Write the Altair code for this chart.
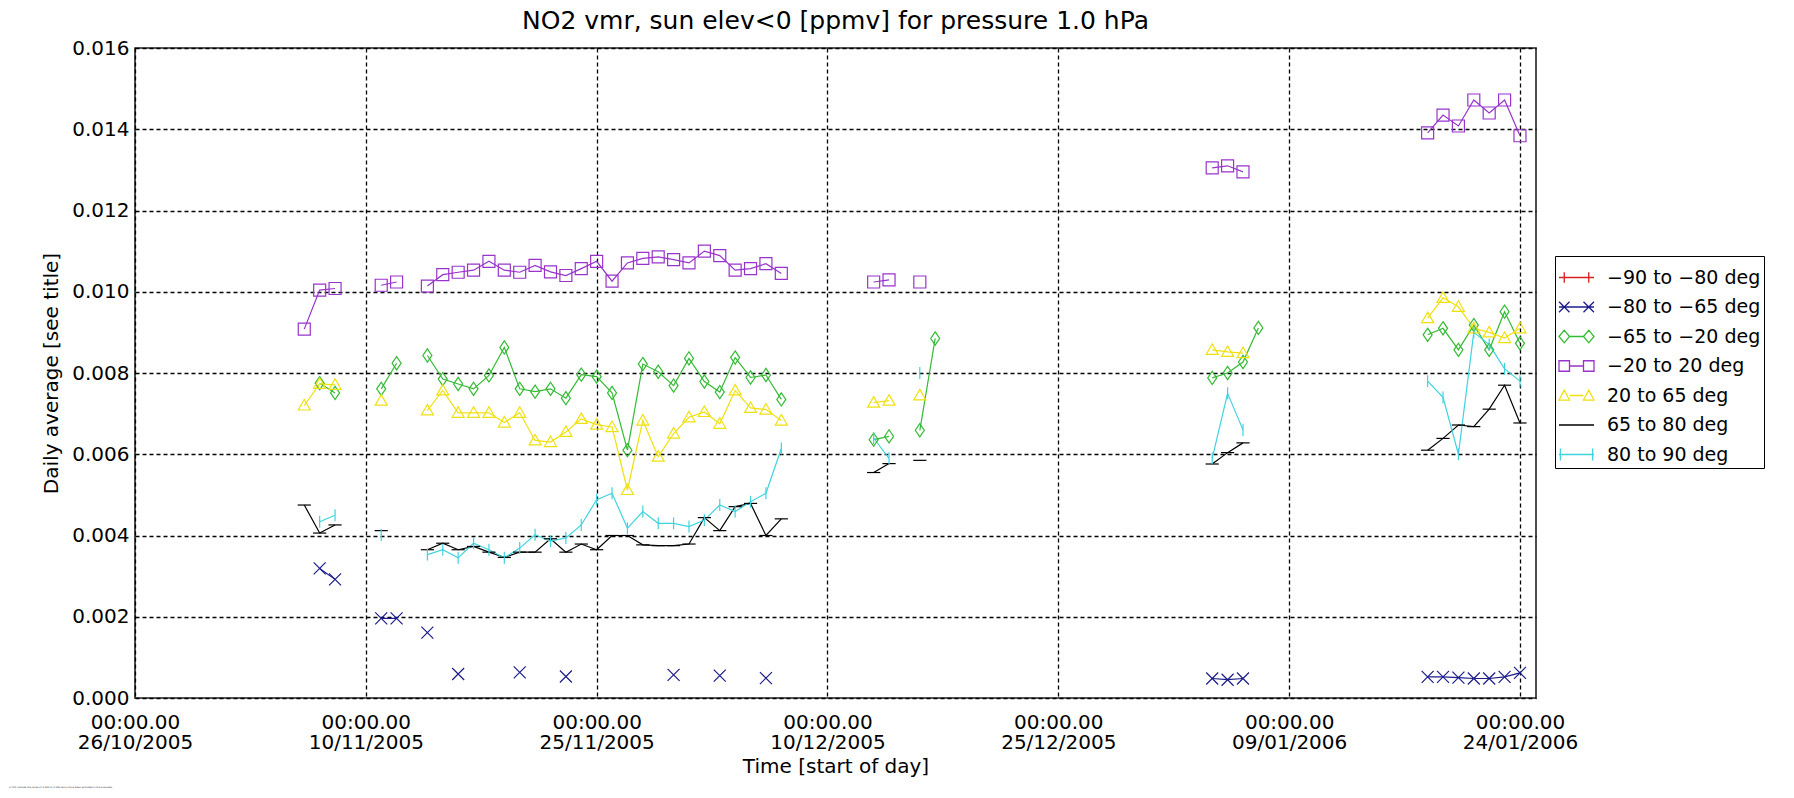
import altair as alt
import pandas as pd

# ---------------- data ----------------
SERIES = ["−90 to −80 deg", "−80 to −65 deg", "−65 to −20 deg", "−20 to 20 deg",
          "20 to 65 deg", "65 to 80 deg", "80 to 90 deg"]
MARKER_IDS = ["plus", "cross", "diamond", "square", "triangle", "hbar", "vbar"]
COLORS = ["#d42020", "#1c1c8c", "#33bb33", "#9933cc", "#f0e010", "#000000", "#3fd3e0"]

DATES_A = ["2005-11-06", "2005-11-07", "2005-11-08", "2005-11-11", "2005-11-12"]
DATES_B = ["2005-11-14", "2005-11-15", "2005-11-16", "2005-11-17", "2005-11-18",
           "2005-11-19", "2005-11-20", "2005-11-21", "2005-11-22", "2005-11-23",
           "2005-11-24", "2005-11-25", "2005-11-26", "2005-11-27", "2005-11-28",
           "2005-11-29", "2005-11-30", "2005-12-01", "2005-12-02", "2005-12-03",
           "2005-12-04", "2005-12-05", "2005-12-06", "2005-12-07"]
DATES_C = ["2005-12-13", "2005-12-14", "2005-12-16", "2005-12-17"]
DATES_D = ["2006-01-04", "2006-01-05", "2006-01-06", "2006-01-07"]
DATES_E = ["2006-01-18", "2006-01-19", "2006-01-20", "2006-01-21", "2006-01-22",
           "2006-01-23", "2006-01-24"]
ALL_DATES = DATES_A + DATES_B + DATES_C + DATES_D + DATES_E

N = None
RED = [N] * len(ALL_DATES)
BLUE = ([N, 0.00319, 0.00292, 0.00196, 0.00196]
        + [0.00161, N, 0.00059, N, N, N, 0.00063, N, N, 0.00053, N, N, N, N, N, N,
           0.00057, N, N, 0.00055, N, N, 0.00049, N]
        + [N, N, N, N]
        + [0.00048, 0.00045, 0.00048, N]
        + [0.00052, 0.00052, 0.00050, 0.00048, 0.00048, 0.00052, 0.00062])
GREEN = ([N, 0.00775, 0.00751, 0.00761, 0.00824]
         + [0.00843, 0.00785, 0.00773, 0.00761, 0.00794, 0.00863, 0.00761, 0.00754,
            0.00761, 0.00738, 0.00796, 0.00791, 0.00751, 0.00610, 0.00822, 0.00803,
            0.00769, 0.00836, 0.00779, 0.00753, 0.00838, 0.00789, 0.00795, 0.00735]
         + [0.00636, 0.00644, 0.00659, 0.00885]
         + [0.00788, 0.00800, 0.00827, 0.00911]
         + [0.00894, 0.00910, 0.00857, 0.00918, 0.00857, 0.00951, 0.00873])
PURPLE = ([0.00908, 0.01004, 0.01008, 0.01016, 0.01024]
          + [0.01014, 0.01042, 0.01048, 0.01053, 0.01075, 0.01053, 0.01048, 0.01065,
             0.01049, 0.01040, 0.01057, 0.01075, 0.01026, 0.01071, 0.01082, 0.01086,
             0.01079, 0.01071, 0.01100, 0.01089, 0.01053, 0.01057, 0.01069, 0.01045]
          + [0.01024, 0.01029, 0.01024, N]
          + [0.01305, 0.01310, 0.01295, N]
          + [0.01391, 0.01435, 0.01408, 0.01472, 0.01440, 0.01472, 0.01384])
YELLOW = ([0.00720, 0.00773, 0.00771, 0.00732, N]
          + [0.00708, 0.00757, 0.00702, 0.00702, 0.00702, 0.00678, 0.00702, 0.00634,
             0.00630, 0.00655, 0.00687, 0.00673, 0.00667, 0.00512, 0.00683, 0.00594,
             0.00651, 0.00691, 0.00704, 0.00675, 0.00757, 0.00714, 0.00710, 0.00683]
          + [0.00727, 0.00732, 0.00745, N]
          + [0.00857, 0.00852, 0.00849, N]
          + [0.00935, 0.00985, 0.00963, 0.00910, 0.00900, 0.00886, 0.00910])
BLACK = ([0.00475, 0.00406, 0.00426, 0.00412, N]
         + [0.00365, 0.00381, 0.00365, 0.00373, 0.00359, 0.00346, 0.00359, 0.00359,
            0.00392, 0.00359, 0.00379, 0.00365, 0.00400, 0.00400, 0.00377, 0.00375,
            0.00375, 0.00379, 0.00444, 0.00412, 0.00471, 0.00479, 0.00400, 0.00441]
         + [0.00555, 0.00577, 0.00585, N]
         + [0.00576, 0.00604, 0.00628, N]
         + [0.00610, 0.00639, 0.00672, 0.00668, 0.00711, 0.00770, 0.00677])
CYAN = ([N, 0.00434, 0.00450, 0.00401, N]
        + [0.00353, 0.00365, 0.00345, 0.00381, 0.00365, 0.00345, 0.00369, 0.00402,
           0.00386, 0.00394, 0.00426, 0.00488, 0.00504, 0.00418, 0.00459, 0.00430,
           0.00430, 0.00422, 0.00438, 0.00475, 0.00459, 0.00483, 0.00504, 0.00614]
        + [0.00640, 0.00590, 0.00800, N]
        + [0.00590, 0.00750, 0.00660, N]
        + [0.00780, 0.00740, 0.00600, 0.00900, 0.00870, 0.00810, 0.00780])

VALUES = [RED, BLUE, GREEN, PURPLE, YELLOW, BLACK, CYAN]

X_TICKS = ["2005-10-26", "2005-11-10", "2005-11-25", "2005-12-10",
           "2005-12-25", "2006-01-09", "2006-01-24"]
Y_TICKS = [0.0, 0.002, 0.004, 0.006, 0.008, 0.010, 0.012, 0.014, 0.016]

TITLE = "NO2 vmr, sun elev<0 [ppmv] for pressure 1.0 hPa"
FOOTNOTE = "or F11 outside the range of 0.000 to 1.000 ppmv have been excluded in the averages."

# ---------------- marker shapes ----------------
MARKERS = [
    "M-1,0L1,0M0,-1L0,1",
    "M-1,-1L1,1M-1,1L1,-1",
    "M0,-1.1L0.75,0L0,1.1L-0.75,0Z",
    "M-1,-1L1,-1L1,1L-1,1Z",
    "M0,-1L1,0.75L-1,0.75Z",
    "M-1.1,0L1.1,0",
    "M0,-1L0,1",
]
LEGEND_SYMBOLS = [
    "M-1,0L1,0M-0.7,-0.3L-0.7,0.3M0.7,-0.3L0.7,0.3",
    "M-1,0L1,0M-1,-0.3L-0.4,0.3M-1,0.3L-0.4,-0.3M0.4,-0.3L1,0.3M0.4,0.3L1,-0.3",
    "M-0.4,0L0.4,0M-1,0L-0.7,-0.36L-0.4,0L-0.7,0.36ZM0.4,0L0.7,-0.36L1,0L0.7,0.36Z",
    "M-0.4,0L0.4,0M-1,-0.3L-0.4,-0.3L-0.4,0.3L-1,0.3ZM0.4,-0.3L1,-0.3L1,0.3L0.4,0.3Z",
    "M-0.4,0L0.4,0M-1,0.26L-0.7,-0.3L-0.4,0.26ZM0.4,0.26L0.7,-0.3L1,0.26Z",
    "M-1,0L1,0",
    "M-1,0L1,0M-0.92,-0.34L-0.92,0.34M0.92,-0.34L0.92,0.34",
]

# ---------------- table ----------------
rows = []
for name, mid, vals in zip(SERIES, MARKER_IDS, VALUES):
    assert len(vals) == len(ALL_DATES)
    prev = None
    seg = 0
    for d, v in zip(ALL_DATES, vals):
        if v is None:
            continue
        t = pd.Timestamp(d)
        if prev is None or (t - prev).days > 1:
            seg += 1
        prev = t
        rows.append({"date": d, "value": v, "series": name, "marker": mid,
                     "seg": f"{name}-{seg}"})
df = pd.DataFrame(rows)

FONT = "DejaVu Sans"

shape_expr = "[" + ",".join(f"'{p}'" for p in LEGEND_SYMBOLS) + "][indexof([" + \
    ",".join(f"'{s}'" for s in SERIES) + "], datum.value)]"

legend = alt.Legend(
    title=None, orient="none", legendX=1420, legendY=208,
    strokeColor="#000000", fillColor="#ffffff", padding=3,
    labelFont=FONT, labelFontSize=19, labelColor="#000000", labelLimit=175,
    labelOffset=12, symbolSize=1225, rowPadding=0.5,
    symbolType=alt.ExprRef(expr=shape_expr),
    symbolStrokeColor=alt.ExprRef(expr="scale('color', datum.value)"),
    symbolFillColor="transparent",
    symbolStrokeWidth=1.3, symbolOpacity=1,
)

color = alt.Color("series:N", scale=alt.Scale(domain=SERIES, range=COLORS), legend=legend)

x = alt.X(
    "date:T",
    scale=alt.Scale(type="utc", nice=False,
                    domain=[alt.DateTime(year=2005, month=10, date=26, utc=True),
                            alt.DateTime(year=2006, month=1, date=25, hours=1, utc=True)]),
    axis=alt.Axis(
        title="Time [start of day]",
        values=[alt.DateTime(year=int(s[:4]), month=int(s[5:7]), date=int(s[8:]), utc=True)
                for s in X_TICKS],
        labelExpr="['00:00.00', utcFormat(datum.value, '%d/%m/%Y')]",
        labelLineHeight=20, labelPadding=14, labelOverlap=False, labelBound=False,
        labelFlush=False, titlePadding=4,
    ),
)
y = alt.Y(
    "value:Q",
    scale=alt.Scale(domain=[0, 0.016], nice=False, zero=False),
    axis=alt.Axis(title="Daily average [see title]", values=Y_TICKS, format=".3f",
                  labelPadding=6, titlePadding=10),
)

lines = alt.Chart(df).mark_line(strokeWidth=1.2).encode(
    x=x, y=y, color=color, detail="seg:N"
)
points = alt.Chart(df).mark_point(filled=False, strokeWidth=1.2, size=144, opacity=1).encode(
    x=x, y=y, color=color,
    shape=alt.Shape("marker:N", scale=alt.Scale(domain=MARKER_IDS, range=MARKERS),
                    legend=None),
)
note = alt.Chart(pd.DataFrame({"t": [FOOTNOTE]})).mark_text(
    align="left", baseline="middle", fontSize=2.4, font=FONT, color="#333333"
).encode(x=alt.value(-126), y=alt.value(739), text="t:N")

chart = alt.layer(lines, points, note).properties(
    width=1401, height=650,
    title=alt.TitleParams(TITLE, font=FONT, fontSize=25, fontWeight="normal",
                          color="#000000", anchor="middle", offset=4),
    autosize=alt.AutoSizeParams(type="none"),
    padding={"left": 127, "top": 40, "right": 250, "bottom": 90},
    background="#ffffff",
).configure_view(
    stroke="#222222", strokeWidth=1.6
).configure_axis(
    domain=False, ticks=False, grid=True, gridColor="#000000", gridDash=[4, 3],
    gridWidth=1.3, gridOpacity=1,
    labelFont=FONT, labelFontSize=20, labelColor="#000000",
    titleFont=FONT, titleFontSize=20, titleFontWeight="normal", titleColor="#000000",
)

chart.save("out.html", embed_options={"renderer": "svg", "actions": False})
